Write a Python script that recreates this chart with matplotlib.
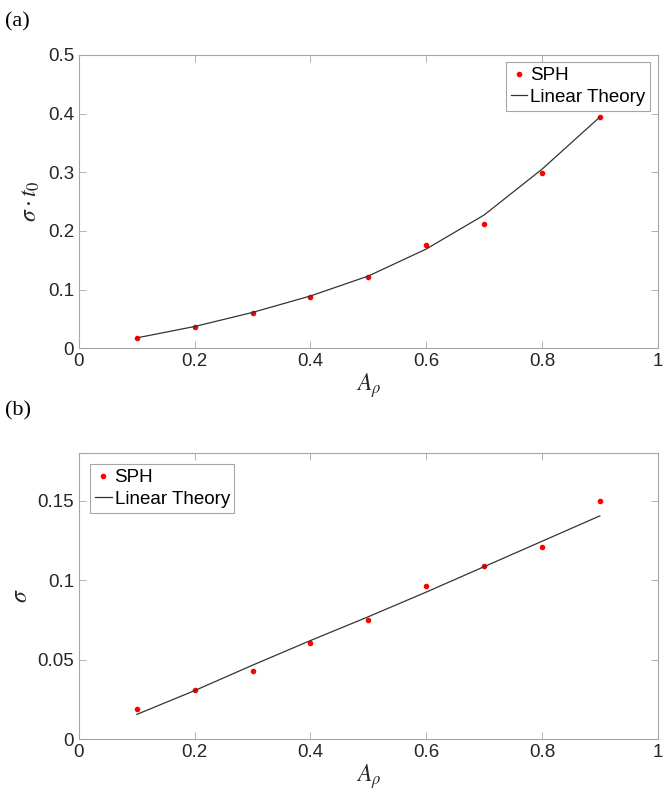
import numpy as np
import matplotlib
matplotlib.use('Agg')
import matplotlib.pyplot as plt

plt.rcParams['font.family'] = ['Liberation Sans', 'DejaVu Sans']
plt.rcParams['mathtext.fontset'] = 'stix'

A = [0.1, 0.2, 0.3, 0.4, 0.5, 0.6, 0.7, 0.8, 0.9]

# panel (a): growth rate times t0
sph_a = [0.0176, 0.0358, 0.0602, 0.088, 0.122, 0.1756, 0.211, 0.298, 0.394]
lin_a = [0.0176, 0.037, 0.061, 0.089, 0.123, 0.169, 0.227, 0.305, 0.394]

# panel (b): growth rate
sph_b = [0.0187, 0.031, 0.0426, 0.0602, 0.0748, 0.0964, 0.109, 0.121, 0.150]
lin_b = [0.0155, 0.0305, 0.0465, 0.062, 0.077, 0.0925, 0.1085, 0.1245, 0.1405]

edge = '#a6a6a6'
tcol = '#262626'

fig = plt.figure(figsize=(6.63, 7.95), dpi=100)
ax1 = fig.add_axes([0.119, 0.562, 0.873, 0.369])
ax2 = fig.add_axes([0.119, 0.0704, 0.873, 0.3596])

def style(ax):
    for s in ax.spines.values():
        s.set_color(edge)
        s.set_linewidth(0.8)
    ax.tick_params(direction='in', top=True, right=True, colors=edge,
                   labelcolor=tcol, labelsize=13.5, length=5, width=0.6)
    ax.set_xlim(0, 1)
    ax.set_xticks([0, 0.2, 0.4, 0.6, 0.8, 1])
    ax.set_xticklabels(['0', '0.2', '0.4', '0.6', '0.8', '1'])

def legend(ax, loc, pad):
    leg = ax.legend(loc=loc, fontsize=13.5, handlelength=0.9, handletextpad=0.15,
                    borderpad=0.25, labelspacing=0.25, fancybox=False, framealpha=1,
                    borderaxespad=pad)
    leg.get_frame().set_edgecolor(edge)
    leg.get_frame().set_linewidth(0.8)

ax1.plot(A, sph_a, 'o', color='red', ms=3, label='SPH')
ax1.plot(A, lin_a, '-', color='#333333', lw=0.9, label='Linear Theory')
style(ax1)
ax1.set_ylim(0, 0.5)
ax1.set_yticks([0, 0.1, 0.2, 0.3, 0.4, 0.5])
ax1.set_yticklabels(['0', '0.1', '0.2', '0.3', '0.4', '0.5'])
ax1.set_xlabel(r'$A_\rho$', fontsize=17, color=tcol, labelpad=1)
ax1.set_ylabel(r'$\sigma \cdot t_0$', fontsize=17, color=tcol, labelpad=4)
legend(ax1, 'upper right', 0.4)

ax2.plot(A, sph_b, 'o', color='red', ms=3, label='SPH')
ax2.plot(A, lin_b, '-', color='#333333', lw=0.9, label='Linear Theory')
style(ax2)
ax2.set_ylim(0, 0.18)
ax2.set_yticks([0, 0.05, 0.1, 0.15])
ax2.set_yticklabels(['0', '0.05', '0.1', '0.15'])
ax2.set_xlabel(r'$A_\rho$', fontsize=17, color=tcol, labelpad=1)
ax2.set_ylabel(r'$\sigma$', fontsize=17, color=tcol, labelpad=4)
legend(ax2, 'upper left', 0.6)

fig.text(0.008, 0.972, '(a)', fontsize=16, family='Liberation Serif', va='center')
fig.text(0.008, 0.483, '(b)', fontsize=16, family='Liberation Serif', va='center')

fig.savefig('out.png', dpi=100)
